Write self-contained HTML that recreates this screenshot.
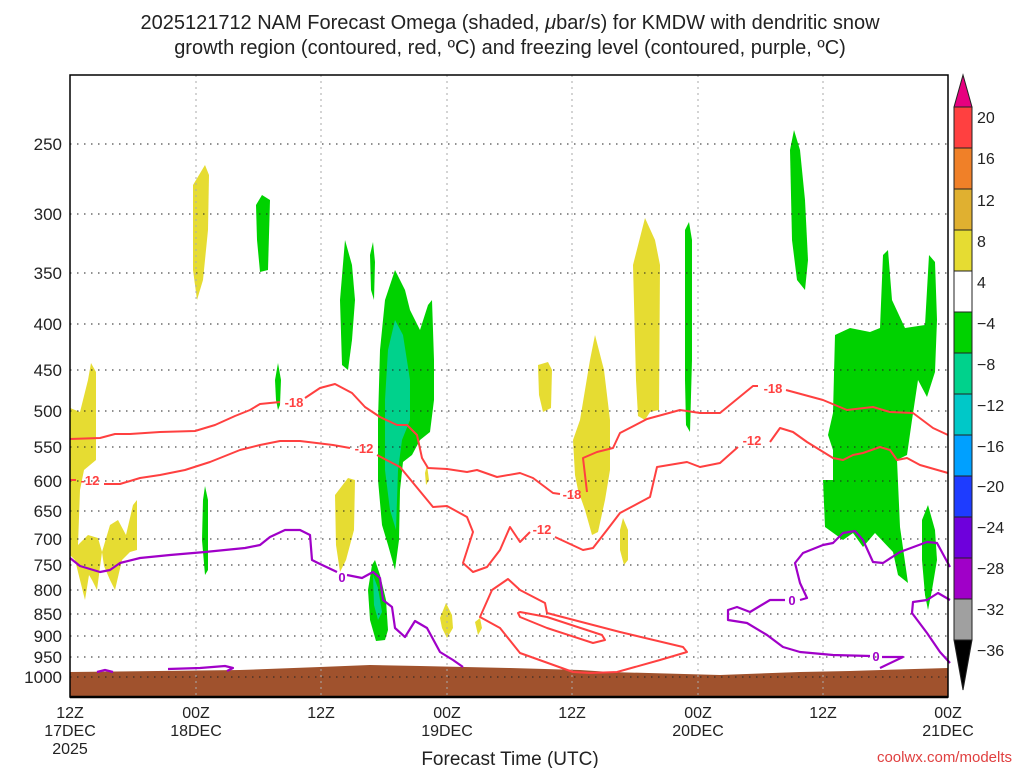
<!DOCTYPE html>
<html><head><meta charset="utf-8"><style>
html,body{margin:0;padding:0;background:#fff;}
svg{display:block;font-family:"Liberation Sans",sans-serif;}
</style></head><body>
<svg width="1024" height="768" viewBox="0 0 1024 768" xmlns="http://www.w3.org/2000/svg">
<rect width="1024" height="768" fill="#fff"/>
<g font-size="20" fill="#222" text-anchor="middle">
<text x="510" y="29">2025121712 NAM Forecast Omega (shaded, <tspan font-style="italic">μ</tspan>bar/s) for KMDW with dendritic snow</text>
<text x="510" y="54">growth region (contoured, red, ºC) and freezing level (contoured, purple, ºC)</text>
</g>
<!-- yellow shading -->
<g fill="#e6dc32">
<path d="M70,408 L80,412 L88,380 L91,363 L96,372 L96,460 L84,470 L80,490 L78,545 L88,535 L98,538 L102,552 L97,590 L92,580 L89,575 L85,600 L80,580 L75,560 L70,555 Z"/>
<path d="M102,552 L110,525 L118,520 L126,535 L133,505 L137,500 L137,550 L130,552 L122,560 L115,590 L110,580 L104,566 Z"/>
<path d="M193,185 L205,165 L209,175 L208,230 L203,280 L197,300 L193,270 Z"/>
<path d="M335,495 L348,478 L355,480 L354,530 L346,560 L340,572 L336,545 Z"/>
<path d="M538,365 L548,362 L552,370 L551,408 L543,412 L539,395 Z"/>
<path d="M573,440 L580,420 L590,360 L595,335 L604,370 L610,420 L610,470 L605,500 L598,532 L592,535 L585,510 L578,490 L575,475 Z"/>
<path d="M620,530 L623,518 L628,530 L628,560 L624,565 L620,550 Z"/>
<path d="M633,265 L645,218 L655,240 L660,265 L659,410 L650,412 L645,420 L638,416 L636,380 Z"/>
<path d="M440,618 L446,603 L452,615 L453,628 L447,638 L442,628 Z"/>
<path d="M475,622 L480,618 L482,628 L478,635 Z"/>
<path d="M425,473 L427,465 L429,480 L426,485 Z"/>
</g>
<!-- green shading -->
<g fill="#00d200">
<path d="M256,205 L262,195 L270,200 L268,270 L260,272 L257,240 Z"/>
<path d="M275,380 L278,363 L281,380 L280,405 L278,410 L276,400 Z"/>
<path d="M203,500 L205,486 L208,500 L208,570 L205,575 L202,540 Z"/>
<path d="M340,300 L345,240 L352,265 L355,300 L352,340 L348,370 L342,365 Z"/>
<path d="M370,255 L373,242 L375,262 L374,300 L371,290 Z"/>
<path d="M395,270 L405,290 L410,310 L420,330 L428,305 L432,300 L434,360 L434,400 L430,432 L420,440 L412,455 L403,462 L400,490 L399,540 L395,570 L388,545 L382,525 L378,480 L378,420 L380,350 L385,300 Z"/>
<path d="M372,565 L375,560 L380,575 L386,600 L388,630 L385,640 L376,641 L370,620 L368,590 Z"/>
<path d="M685,230 L689,222 L692,240 L692,360 L690,432 L686,425 L685,380 Z"/>
<path d="M790,150 L794,130 L800,150 L805,200 L808,260 L805,290 L797,280 L792,240 Z"/>
<path d="M835,335 L850,328 L870,332 L880,328 L883,255 L888,250 L892,300 L905,328 L925,325 L929,255 L935,262 L937,320 L935,372 L927,397 L918,380 L912,420 L907,455 L897,460 L900,527 L908,583 L898,575 L893,552 L875,533 L863,547 L853,533 L843,540 L825,527 L823,480 L833,480 L833,450 L828,435 L833,413 Z"/>
<path d="M922,520 L928,505 L935,530 L937,560 L932,590 L928,610 L925,595 L922,560 Z"/>
</g>
<g fill="#00d28c">
<path d="M395,320 L403,335 L410,380 L410,420 L402,440 L398,470 L396,530 L390,510 L385,470 L385,400 L388,350 Z"/>
<path d="M373,575 L378,588 L382,612 L378,620 L374,605 Z"/>
</g>
<!-- ground -->
<path d="M70,672 L240,670 L320,667 L370,665 L420,666 L510,668 L580,670 L610,672 L720,675 L800,672 L850,671 L948,668 L948,697 L70,697 Z" fill="#a0522d"/>
<!-- grid -->
<g stroke="#222" stroke-width="1" stroke-dasharray="1.5,5.5">
<line x1="70" y1="144" x2="948" y2="144"/><line x1="70" y1="214" x2="948" y2="214"/>
<line x1="70" y1="273" x2="948" y2="273"/><line x1="70" y1="324" x2="948" y2="324"/>
<line x1="70" y1="370" x2="948" y2="370"/><line x1="70" y1="411" x2="948" y2="411"/>
<line x1="70" y1="447" x2="948" y2="447"/><line x1="70" y1="481" x2="948" y2="481"/>
<line x1="70" y1="511" x2="948" y2="511"/><line x1="70" y1="539" x2="948" y2="539"/>
<line x1="70" y1="565" x2="948" y2="565"/><line x1="70" y1="590" x2="948" y2="590"/>
<line x1="70" y1="614" x2="948" y2="614"/><line x1="70" y1="636" x2="948" y2="636"/>
<line x1="70" y1="657" x2="948" y2="657"/><line x1="70" y1="677" x2="948" y2="677"/>
</g>
<g stroke="#aaa" stroke-width="1" stroke-dasharray="2,4">
<line x1="196" y1="75" x2="196" y2="697"/><line x1="321" y1="75" x2="321" y2="697"/>
<line x1="447" y1="75" x2="447" y2="697"/><line x1="572" y1="75" x2="572" y2="697"/>
<line x1="698" y1="75" x2="698" y2="697"/><line x1="823" y1="75" x2="823" y2="697"/>
</g>
<!-- red contours -->
<g fill="none" stroke="#ff4040" stroke-width="2" stroke-linejoin="round">
<path d="M70,439 L100,438 L115,434 L130,434 L160,432 L195,431 L215,425 L235,416 L250,410 L260,404 L280,402"/>
<path d="M305,398 L320,388 L335,384 L352,393 L365,407 L380,417 L397,425 L407,425 L417,435 L422,458 L428,468 L447,469 L467,472 L477,470 L497,477 L520,473 L533,478 L553,493 L560,494"/>
<path d="M587,492 L583,458 L597,452 L613,448 L620,433 L647,419 L680,410 L700,413 L720,413 L753,386 L758,386"/>
<path d="M786,390 L823,400 L847,410 L873,407 L890,412 L913,413 L933,428 L948,435"/>
<path d="M70,480 L76,480"/>
<path d="M104,484 L120,484 L140,478 L160,475 L185,470 L210,462 L240,450 L260,445 L280,441 L300,441 L333,445 L350,448"/>
<path d="M377,455 L400,467 L433,507 L447,506 L467,517 L473,532 L463,563 L473,572 L487,567 L500,550 L510,527 L520,542 L527,535 L530,532"/>
<path d="M555,537 L583,550 L593,548 L607,530 L620,513 L650,497 L657,467 L687,462 L700,467 L720,463 L738,447"/>
<path d="M770,442 L780,428 L793,432 L807,442 L833,458 L843,460 L853,455 L863,453 L880,447 L890,450 L897,460 L907,458 L920,465 L948,473"/>
<path d="M480,617 L492,590 L508,579 L520,590 L545,603 L547,613 L620,632 L683,647 L687,652 L660,660 L617,672 L590,673 L573,672 L520,653 L500,628 Z"/>
<path d="M518,613 L520,617 L547,628 L593,643 L605,640 L602,635 L547,617 L520,612 Z"/>
</g>
<g fill="#ff4040" font-size="13" font-weight="bold" text-anchor="middle">
<text x="294" y="407">-18</text><text x="572" y="499">-18</text><text x="773" y="393">-18</text>
<text x="364" y="453">-12</text><text x="542" y="534">-12</text><text x="752" y="445">-12</text>
<text x="90" y="485">-12</text>
</g>
<!-- purple contours -->
<g fill="none" stroke="#a000c8" stroke-width="2.2" stroke-linejoin="round">
<path d="M70,558 L80,566 L100,572 L110,570 L120,563 L140,558 L170,555 L205,552 L245,548 L260,545 L270,537 L285,530 L300,530 L310,535 L312,560 L318,563 L337,572"/>
<path d="M347,575 L362,578 L373,572 L380,578 L383,600 L392,607 L395,628 L405,637 L415,621 L427,628 L440,652 L453,660 L463,667"/>
<path d="M97,672 L105,670 L113,672"/>
<path d="M168,669 L200,668 L225,666 L233,668 L227,671"/>
<path d="M950,567 L937,543 L927,542 L900,552 L883,563 L873,562 L863,540 L855,531 L843,533 L833,543 L823,545 L803,553 L795,563 L800,583 L807,598 L800,600"/>
<path d="M785,600 L770,600 L750,612 L737,607 L728,610 L728,620 L747,623 L767,635 L783,647 L800,652 L833,655 L870,656"/>
<path d="M882,657 L903,657 L880,668"/>
<path d="M950,600 L938,593 L927,600 L913,602 L912,613 L927,633 L940,652 L950,663"/>
</g>
<g fill="#a000c8" font-size="13" font-weight="bold" text-anchor="middle">
<text x="342" y="582">0</text><text x="792" y="605">0</text><text x="876" y="661">0</text>
</g>
<!-- frame -->
<rect x="70" y="75" width="878" height="622" fill="none" stroke="#000" stroke-width="1.5"/>
<line x1="70" y1="697" x2="948" y2="697" stroke="#000" stroke-width="2.5"/>
<!-- y labels -->
<g font-size="17" fill="#222" text-anchor="end">
<text x="62" y="150">250</text><text x="62" y="220">300</text><text x="62" y="279">350</text>
<text x="62" y="330">400</text><text x="62" y="376">450</text><text x="62" y="417">500</text>
<text x="62" y="453">550</text><text x="62" y="487">600</text><text x="62" y="517">650</text>
<text x="62" y="545">700</text><text x="62" y="571">750</text><text x="62" y="596">800</text>
<text x="62" y="620">850</text><text x="62" y="642">900</text><text x="62" y="663">950</text>
<text x="62" y="683">1000</text>
</g>
<!-- x labels -->
<g font-size="16" fill="#222" text-anchor="middle">
<text x="70" y="718">12Z</text><text x="70" y="736">17DEC</text><text x="70" y="754">2025</text>
<text x="196" y="718">00Z</text><text x="196" y="736">18DEC</text>
<text x="321" y="718">12Z</text>
<text x="447" y="718">00Z</text><text x="447" y="736">19DEC</text>
<text x="572" y="718">12Z</text>
<text x="698" y="718">00Z</text><text x="698" y="736">20DEC</text>
<text x="823" y="718">12Z</text>
<text x="948" y="718">00Z</text><text x="948" y="736">21DEC</text>
</g>
<text x="510" y="765" font-size="19" fill="#222" text-anchor="middle">Forecast Time (UTC)</text>
<text x="1012" y="762" font-size="15" fill="#e04040" text-anchor="end">coolwx.com/modelts</text>
<!-- colorbar -->
<g stroke="#222" stroke-width="1">
<path d="M954,107 L963,75 L972,107 Z" fill="#e6007f"/>
<rect x="954" y="107" width="18" height="41" fill="#ff4040"/>
<rect x="954" y="148" width="18" height="41" fill="#f08028"/>
<rect x="954" y="189" width="18" height="41" fill="#e0b030"/>
<rect x="954" y="230" width="18" height="41" fill="#e6dc32"/>
<rect x="954" y="271" width="18" height="41" fill="#ffffff"/>
<rect x="954" y="312" width="18" height="41" fill="#00d200"/>
<rect x="954" y="353" width="18" height="41" fill="#00d28c"/>
<rect x="954" y="394" width="18" height="41" fill="#00c8c8"/>
<rect x="954" y="435" width="18" height="41" fill="#00a0ff"/>
<rect x="954" y="476" width="18" height="41" fill="#1e3cff"/>
<rect x="954" y="517" width="18" height="41" fill="#6e00dc"/>
<rect x="954" y="558" width="18" height="41" fill="#a000c8"/>
<rect x="954" y="599" width="18" height="41" fill="#a0a0a0"/>
<path d="M954,640 L963,690 L972,640 Z" fill="#000"/>
</g>
<g font-size="16" fill="#222">
<text x="977" y="123">20</text><text x="977" y="164">16</text><text x="977" y="206">12</text>
<text x="977" y="247">8</text><text x="977" y="288">4</text><text x="977" y="329">−4</text>
<text x="977" y="370">−8</text><text x="977" y="411">−12</text><text x="977" y="452">−16</text>
<text x="977" y="492">−20</text><text x="977" y="533">−24</text><text x="977" y="574">−28</text>
<text x="977" y="615">−32</text><text x="977" y="656">−36</text>
</g>
</svg>
</body></html>
